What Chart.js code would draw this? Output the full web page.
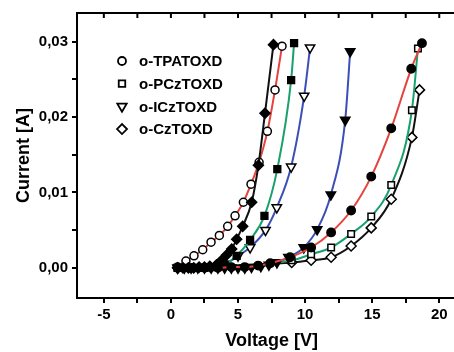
<!DOCTYPE html>
<html><head><meta charset="utf-8">
<script src="https://cdn.jsdelivr.net/npm/chart.js@4.4.1/dist/chart.umd.min.js"></script>
<style>
html,body{margin:0;padding:0;background:#fff;overflow:hidden;width:454px;height:352px}
#wrap{position:relative;width:473px;height:352px}
</style></head><body>
<div id="wrap"><canvas id="c"></canvas></div>
<script>
// ---- data (Voltage [V], Current [A]) ----
const seriesNames = ['o-TPATOXD', 'o-PCzTOXD', 'o-ICzTOXD', 'o-CzTOXD'];

// o-TPATOXD, open circles (red)
const tpaOpenV = [0.5, 1.12, 1.72, 2.37, 2.99, 3.61, 4.23, 4.78, 5.40, 5.97, 6.57, 7.19, 7.76, 8.28];
const tpaOpenI = [0.0001, 0.0009, 0.0016, 0.0024, 0.0034, 0.0043, 0.0055, 0.0069, 0.0087, 0.0111, 0.0140, 0.0181, 0.0236, 0.0294];
// o-TPATOXD, filled circles (red)
const tpaFillV = [0.5, 1.5, 2.5, 3.5, 4.5, 5.5, 6.5, 7.4, 8.88, 10.45, 11.94, 13.43, 14.93, 16.42, 17.91, 18.71];
const tpaFillI = [0, 0, 0, 0, 0.0001, 0.0001, 0.0003, 0.0006, 0.0014, 0.0027, 0.0047, 0.0076, 0.0121, 0.0185, 0.0264, 0.0298];

// o-PCzTOXD, filled squares (green)
const pczFillV = [0.5, 1.0, 1.5, 2.0, 2.5, 3.0, 3.5, 4.0, 4.9, 5.9, 6.97, 7.93, 8.96, 9.18];
const pczFillI = [0, 0, 0, 0, 0, 0.0001, 0.0002, 0.0004, 0.0016, 0.0037, 0.0069, 0.0131, 0.0249, 0.0298];
// o-PCzTOXD, open squares (green)
const pczOpenV = [0.5, 9.0, 10.45, 11.94, 13.43, 14.93, 16.42, 17.96, 18.41];
const pczOpenI = [0, 0.0010, 0.0018, 0.0027, 0.0045, 0.0068, 0.0110, 0.0209, 0.0291];

// o-ICzTOXD, open triangles (blue)
const iczOpenV = [0.5, 4.0, 5.0, 5.9, 7.05, 7.89, 8.96, 9.93, 10.37];
const iczOpenI = [0, 0.0005, 0.0016, 0.0027, 0.0050, 0.0080, 0.0134, 0.0228, 0.0292];
// o-ICzTOXD, filled triangles (blue)
const iczFillV = [0.5, 1.0, 1.5, 2.0, 2.5, 3.0, 3.5, 4.0, 4.5, 5.0, 5.5, 6.0, 6.7, 7.3, 7.9, 8.76, 9.9, 10.9, 11.92, 12.99, 13.36];
const iczFillI = [0, 0, 0, 0, 0, 0, 0, 0, 0, 0, 0, 0.0001, 0.0002, 0.0004, 0.0007, 0.0014, 0.0027, 0.0051, 0.0097, 0.0196, 0.0287];

// o-CzTOXD, filled diamonds (black)
const czFillV = [0.5, 0.9, 1.3, 1.7, 2.1, 2.5, 2.9, 3.4, 3.78, 4.15, 4.53, 4.9, 5.35, 6.02, 6.52, 7.01, 7.64];
const czFillI = [0, 0, 0, 0, 0.0001, 0.0001, 0.0002, 0.0004, 0.0010, 0.0017, 0.0025, 0.0038, 0.0055, 0.0087, 0.0136, 0.0205, 0.0296];
// o-CzTOXD, open diamonds (black)
const czOpenV = [0.5, 9.0, 10.45, 11.94, 13.43, 14.93, 16.42, 17.96, 18.53];
const czOpenI = [0, 0.0007, 0.0010, 0.0014, 0.0029, 0.0053, 0.0091, 0.0173, 0.0236];

// ticks
const xTickValues = [-5, -2.5, 0, 2.5, 5, 7.5, 10, 12.5, 15, 17.5, 20];
const xLabelValues = [-5, 0, 5, 10, 15, 20];
const yTickValues = [0, 0.005, 0.01, 0.015, 0.02, 0.025, 0.03];
const yLabelValues = [0, 0.01, 0.02, 0.03];

// ---- styles ----
const RED = '#e5433d', GREEN = '#19a06c', BLUE = '#3c4fb6', BLACK = '#111111';
const FONT = '"Liberation Sans", Arial, sans-serif';

function pts(v, i) { return v.map((x, k) => ({x: x, y: i[k]})); }
function mk(label, v, i, color, style, filled, radius, rotation) {
  return {
    label: label, data: pts(v, i),
    borderColor: color, borderWidth: 2, backgroundColor: color,
    pointStyle: style, pointRotation: rotation || 0,
    pointRadius: radius, pointHoverRadius: radius,
    pointBackgroundColor: filled ? '#000' : '#fff',
    pointBorderColor: '#000', pointBorderWidth: 1.5,
    cubicInterpolationMode: 'monotone', fill: false
  };
}

// filled datasets first (drawn on top), open ones after
const datasets = [
  mk(seriesNames[3] + ' (filled)', czFillV, czFillI, BLACK, 'rectRot', true, 5),
  mk(seriesNames[0] + ' (filled)', tpaFillV, tpaFillI, RED, 'circle', true, 4.2),
  mk(seriesNames[1] + ' (filled)', pczFillV, pczFillI, GREEN, 'rect', true, 4.8),
  mk(seriesNames[2] + ' (filled)', iczFillV, iczFillI, BLUE, 'triangle', true, 5.4, 180),
  mk(seriesNames[0], tpaOpenV, tpaOpenI, RED, 'circle', false, 4),
  mk(seriesNames[1], pczOpenV, pczOpenI, GREEN, 'rect', false, 4.6),
  mk(seriesNames[2], iczOpenV, iczOpenI, BLUE, 'triangle', false, 5.4, 180),
  mk(seriesNames[3], czOpenV, czOpenI, BLACK, 'rectRot', false, 5)
];
const legendDatasetIdx = [4, 5, 6, 7];

const frameTop = {
  id: 'frameTop',
  afterDraw(chart) {
    const {ctx, chartArea: a, scales: {x}} = chart;
    ctx.save();
    ctx.strokeStyle = '#000'; ctx.lineWidth = 2;
    ctx.beginPath(); ctx.moveTo(a.left - 1, a.top); ctx.lineTo(a.right + 10, a.top); ctx.stroke();
    ctx.beginPath();
    x.ticks.forEach(t => { const px = x.getPixelForValue(t.value); ctx.moveTo(px, a.top); ctx.lineTo(px, a.top + 5); });
    ctx.stroke();
    ctx.restore();
  }
};

const inlineLegend = {
  id: 'inlineLegend',
  afterDraw(chart) {
    const {ctx, chartArea: a} = chart;
    ctx.save();
    legendDatasetIdx.forEach((di, k) => {
      const d = chart.data.datasets[di];
      const cx = a.left + 45, cy = a.top + 48 + k * 22.7;
      ctx.fillStyle = '#fff'; ctx.strokeStyle = '#000'; ctx.lineWidth = 1.8;
      Chart.helpers.drawPoint(ctx, {pointStyle: d.pointStyle, rotation: d.pointRotation, radius: d.pointRadius, borderWidth: 1.8}, cx, cy);
      ctx.fillStyle = '#000';
      ctx.font = 'bold 15px ' + FONT;
      ctx.textBaseline = 'middle'; ctx.textAlign = 'left';
      ctx.fillText(seriesNames[k], cx + 17, cy + 1);
    });
    ctx.restore();
  }
};

new Chart(document.getElementById('c'), {
  type: 'line',
  data: {datasets: datasets},
  plugins: [frameTop, inlineLegend],
  options: {
    responsive: true, maintainAspectRatio: false, animation: false, devicePixelRatio: 1,
    layout: {padding: {top: 12, right: 4, left: 0, bottom: 0}},
    plugins: {legend: {display: false}, tooltip: {enabled: false}},
    scales: {
      x: {
        type: 'linear', min: -7, max: 22,
        afterBuildTicks: s => { s.ticks = xTickValues.map(v => ({value: v})); },
        afterFit: s => { s.height = 54; },
        ticks: {
          color: '#000', font: {family: FONT, size: 15, weight: 'bold'}, padding: 3,
          maxRotation: 0, autoSkip: false,
          callback: v => xLabelValues.includes(v) ? String(v) : ''
        },
        grid: {display: true, drawOnChartArea: false, drawTicks: true, tickLength: 5, color: '#000', lineWidth: 2},
        border: {display: true, color: '#000', width: 2},
        title: {display: true, text: 'Voltage [V]', color: '#000', font: {family: FONT, size: 18, weight: 'bold'}, padding: {top: 0, bottom: 0}}
      },
      y: {
        type: 'linear', min: -0.004, max: 0.0338,
        afterBuildTicks: s => { s.ticks = yTickValues.map(v => ({value: v})); },
        afterFit: s => { s.width = 77; },
        ticks: {
          color: '#000', font: {family: FONT, size: 15, weight: 'bold'}, padding: 4, autoSkip: false,
          callback: v => yLabelValues.some(l => Math.abs(l - v) < 1e-9) ? v.toFixed(2).replace('.', ',') : ''
        },
        grid: {display: true, drawOnChartArea: false, drawTicks: true, tickLength: 5, color: '#000', lineWidth: 2},
        border: {display: true, color: '#000', width: 2},
        title: {display: true, text: 'Current [A]', color: '#000', font: {family: FONT, size: 18, weight: 'bold'}, padding: {top: 13, bottom: 0}}
      }
    }
  }
});
</script>
</body></html>
